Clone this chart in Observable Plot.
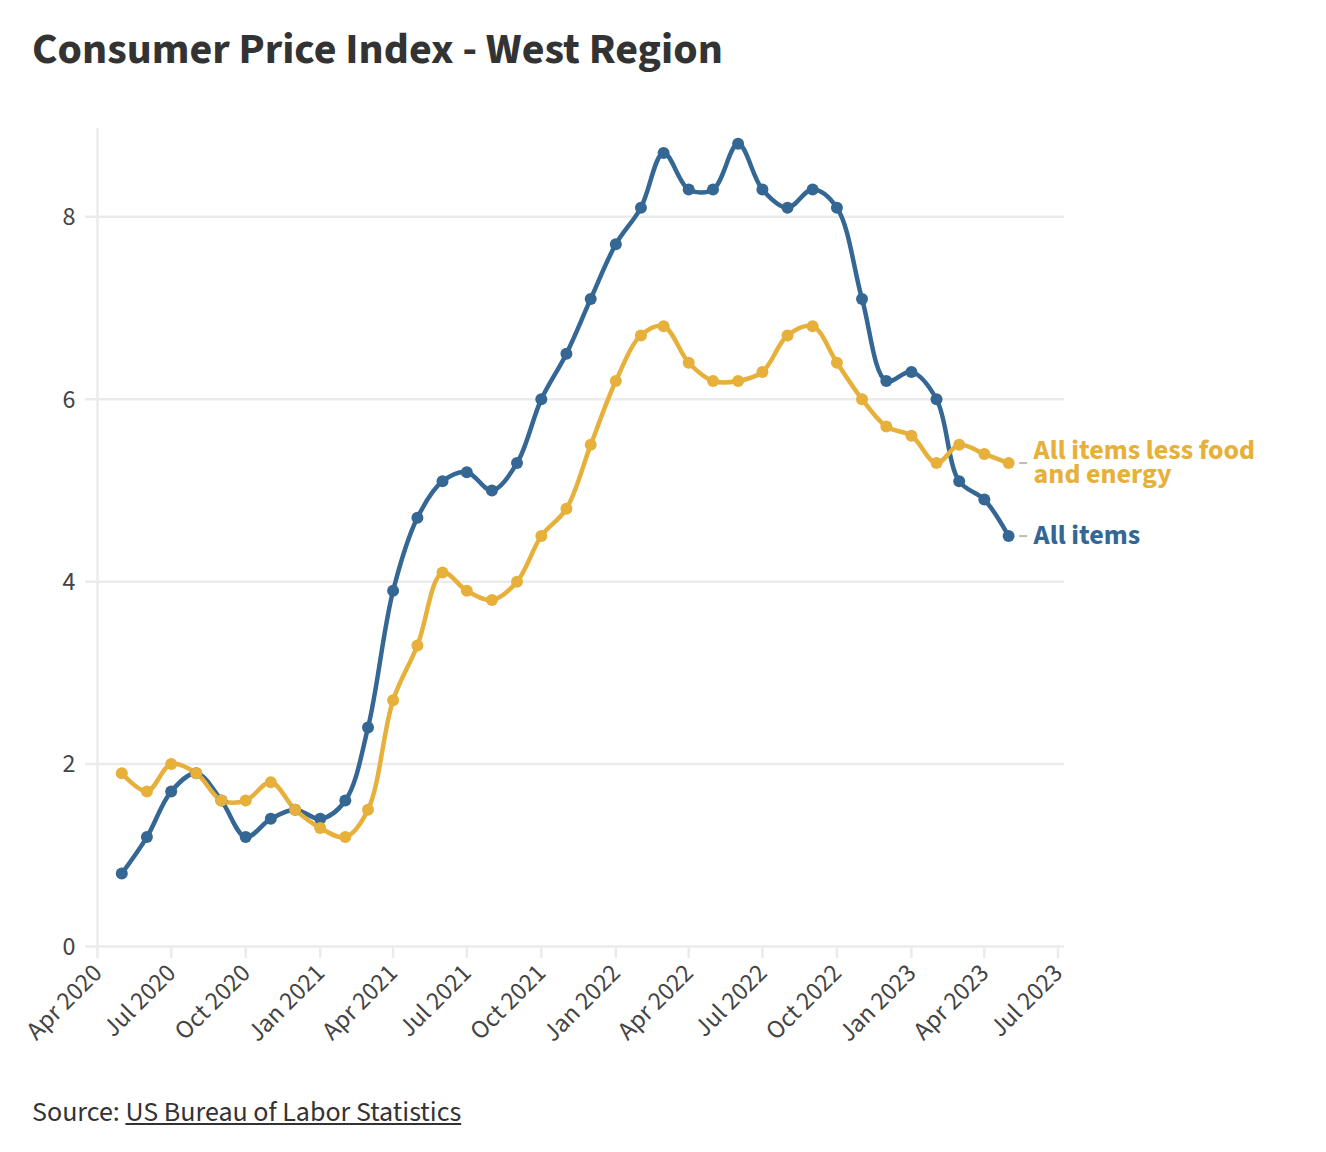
<!DOCTYPE html>
<html>
<head>
<meta charset="utf-8">
<script src="https://cdn.jsdelivr.net/npm/d3@7"></script>
<script src="https://cdn.jsdelivr.net/npm/@observablehq/plot@0.6"></script>
<style>
  html, body { margin: 0; padding: 0; background: #fff; }
  body { width: 1326px; height: 1152px; position: relative; font-family: "Source Sans Pro", "Source Sans 3", Lato, sans-serif; color: #333; }
  #title { position: absolute; left: 32px; top: 24px; font-size: 44px; font-weight: 700; color: #333; line-height: 1.2; }
  #chart { position: absolute; left: 0; top: 100px; }
  #source { position: absolute; left: 32px; top: 1096px; font-size: 28px; color: #333; line-height: 1.2; }
  #source a { color: #333; text-decoration: underline; }
</style>
</head>
<body>
<div id="title">Consumer Price Index - West Region</div>
<div id="chart"></div>
<div id="source">Source: <a href="#">US Bureau of Labor Statistics</a></div>
<script>
const months = [
  "2020-05","2020-06","2020-07","2020-08","2020-09","2020-10","2020-11","2020-12",
  "2021-01","2021-02","2021-03","2021-04","2021-05","2021-06","2021-07","2021-08","2021-09","2021-10","2021-11","2021-12",
  "2022-01","2022-02","2022-03","2022-04","2022-05","2022-06","2022-07","2022-08","2022-09","2022-10","2022-11","2022-12",
  "2023-01","2023-02","2023-03","2023-04","2023-05"
];
const allItems = [
  0.8,1.2,1.7,1.9,1.6,1.2,1.4,1.5,
  1.4,1.6,2.4,3.9,4.7,5.1,5.2,5.0,5.3,6.0,6.5,7.1,
  7.7,8.1,8.7,8.3,8.3,8.8,8.3,8.1,8.3,8.1,7.1,6.2,
  6.3,6.0,5.1,4.9,4.5
];
const coreItems = [
  1.9,1.7,2.0,1.9,1.6,1.6,1.8,1.5,
  1.3,1.2,1.5,2.7,3.3,4.1,3.9,3.8,4.0,4.5,4.8,5.5,
  6.2,6.7,6.8,6.4,6.2,6.2,6.3,6.7,6.8,6.4,6.0,5.7,
  5.6,5.3,5.5,5.4,5.3
];
const seriesNames = ["All items", "All items less food and energy"];
const seriesLabels = ["All items", "All items less food\nand energy"];
const seriesColors = ["#356794", "#e6b03b"];
const yTicks = [0, 2, 4, 6, 8];
const xTicks = ["2020-04","2020-07","2020-10","2021-01","2021-04","2021-07","2021-10","2022-01","2022-04","2022-07","2022-10","2023-01","2023-04","2023-07"];

const parse = d3.utcParse("%Y-%m");
const data = [];
[allItems, coreItems].forEach((vals, s) => {
  vals.forEach((v, i) => data.push({date: parse(months[i]), value: v, series: seriesNames[s]}));
});
const last = seriesNames.map((name, s) => {
  const vals = s === 0 ? allItems : coreItems;
  return {date: parse(months[months.length - 1]), value: vals[vals.length - 1], series: name, label: seriesLabels[s]};
});

const gridColor = "#ebebeb";
const fmt = d3.utcFormat("%b %Y");
const x0 = parse(xTicks[0]);

const chart = Plot.plot({
  width: 1326,
  height: 980,
  marginLeft: 97,
  marginRight: 262,
  marginTop: 16,
  marginBottom: 134,
  style: {fontFamily: '"Source Sans Pro", "Source Sans 3", Lato, sans-serif', fontSize: "26px", color: "#444", background: "#fff"},
  x: {type: "utc", domain: [x0, new Date(Date.UTC(2023,6,9))]},
  y: {domain: [0, 9.1], label: null},
  color: {domain: seriesNames, range: seriesColors},
  marks: [
    Plot.ruleY(yTicks, {stroke: gridColor, strokeWidth: 2.5, insetLeft: -12}),
    Plot.ruleX([x0], {y1: 0, y2: 9.1, stroke: gridColor, strokeWidth: 2.5, insetBottom: -12}),
    Plot.ruleX(xTicks.map(parse), {y1: 0, y2: 0, insetBottom: -12, stroke: gridColor, strokeWidth: 2.5}),
    Plot.axisY({ticks: yTicks, tickSize: 0, tickPadding: 22, fill: "#444", fontSize: 26, label: null}),
    Plot.axisX({ticks: xTicks.map(parse), tickFormat: fmt, tickSize: 0, tickRotate: -45, tickPadding: 22, fill: "#444", fontSize: 26, label: null}),
    Plot.line(data, {x: "date", y: "value", stroke: "series", strokeWidth: 4.5, curve: "catmull-rom"}),
    Plot.dot(data, {x: "date", y: "value", fill: "series", r: 6}),
    Plot.ruleY(last, {x1: "date", x2: "date", y: "value", insetLeft: 11, insetRight: -19, stroke: "#bbb", strokeWidth: 2}),
    Plot.text(last, {x: "date", y: "value", text: "label", fill: "series", dx: 25, textAnchor: "start", lineAnchor: "middle", fontSize: 28, fontWeight: 700, lineHeight: 0.88})
  ]
});
document.getElementById("chart").appendChild(chart);
</script>
</body>
</html>
